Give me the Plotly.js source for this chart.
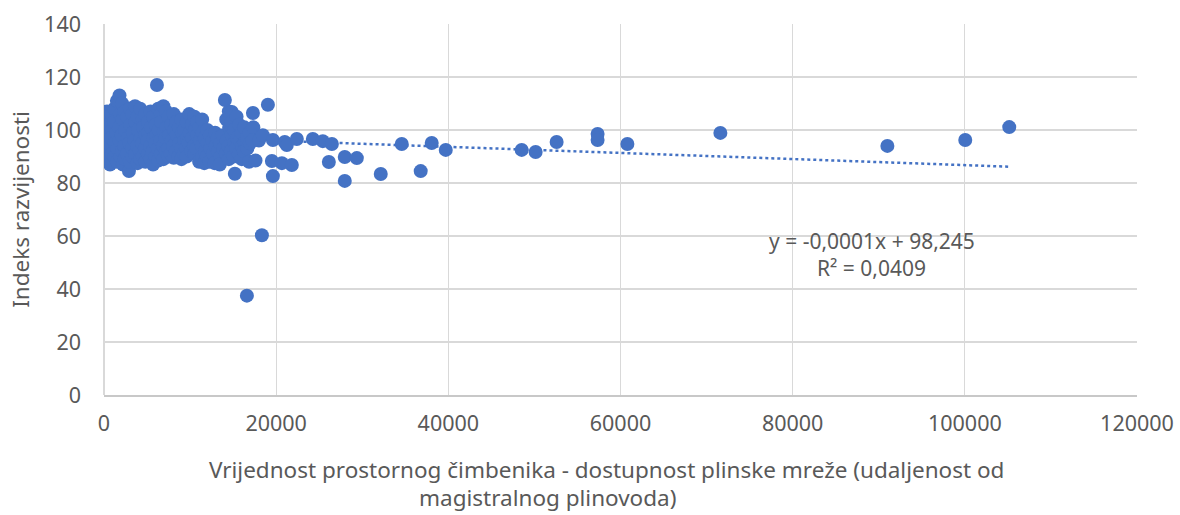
<!DOCTYPE html>
<html>
<head>
<meta charset="utf-8">
<script src="https://cdn.plot.ly/plotly-3.0.1.min.js"></script>
<style>html,body{margin:0;padding:0;background:#fff;}#chart{width:1180px;height:515px;}</style>
</head>
<body>
<div id="chart"></div>
<script>
// Distance to the main gas pipeline (x) and development index (y)
const gasAccess = [
  200,250,300,250,350,450,400,500,
  650,600,700,900,950,850,900,
  1200,1150,1250,1200,1500,1450,1550,1500,
  1800,1850,1750,1800,1900,
  2100,2150,2050,2100,2200,
  2400,2450,2350,2400,
  2700,2750,2650,2900,
  3000,3050,2950,3000,
  3300,3350,3250,3300,
  3600,3650,3550,3600,
  3900,3950,3850,3900,
  4200,4250,4150,4200,
  4500,4550,4450,4500,
  4800,4850,4750,4800,
  5100,5150,5050,5100,
  5400,5450,5350,5400,
  5700,5750,5650,5700,
  6000,6050,5950,6000,
  6150,
  6300,6350,6250,6300,
  6600,6650,6550,6600,
  6900,6950,6850,6900,
  7200,7250,7150,7200,
  7500,7550,7450,7500,
  7800,7850,7750,
  8100,8150,8050,8100,
  8400,8450,8350,
  8700,8750,8650,
  9000,9050,8950,9000,
  9300,9350,9250,
  9600,9650,9550,9600,
  9900,9950,9850,
  10200,10250,10150,
  10500,10550,10450,10500,
  10800,10850,10750,
  11100,11150,11050,
  11400,11450,11350,11400,
  11700,11750,11650,
  12000,12050,11950,
  12300,12350,12250,
  12600,12650,
  12900,12950,12850,
  13200,13250,
  13500,13550,13450,
  13800,13850,
  14040,
  14200,14250,14150,
  14500,14550,14450,14500,
  14850,14800,14850,14750,
  15100,15150,15050,
  15200,
  15400,15450,15350,
  15700,15750,15650,
  16000,16050,16000,
  16300,16350,16250,
  16600,16650,16600,
  16900,16950,16850,
  17300,17350,17250,
  17600,
  18000,
  18340,
  18450,
  19040,
  19500,19620,19620,
  20660,21000,21240,21820,22400,
  24260,25420,26470,26120,27970,29370,27970,32150,
  34590,36790,38070,39700,48520,50140,52580,57340,57340,60800,71600,91000,100050,105160
];
const devIndex = [
  104,100,96,92,107,98,94,89,
  102,95,87,106,100,97,91,
  108,103,95,90,111,99,93,88,
  113,106,101,96,90,
  110,104,98,92,87,
  107,100,94,89,
  105,97,91,84.5,
  108,102,95,88,
  106,99,93,90,
  109,103,96,91,
  105,100,94,87.5,
  108,97,92,89,
  104,101,95,90,
  106,98,93,88,
  103,99,96,91,
  107,101,94,89,
  105,97,92,87,
  102,98,95,90,
  117,
  108,100,93,88.5,
  106,103,96,91,
  109,99,94,89,
  107,101,97,92,
  105,98,93,90,
  102,96,91,
  106,100,94,89.5,
  103,98,92,
  101,95,90,
  104,99,93,89,
  100,96,91,
  103,97,93,90,
  106,99,95,
  102,97,92,
  105,100,94,91,
  103,98,93,
  101,96,88,
  104,99,94,90,
  97,92,87.5,
  100,95,90,
  98,93,88,
  96,91,
  99,94,87.5,
  97,92,
  95,90,87,
  98,93,
  111.3,
  104,96,91,
  107,101,94,89,
  106.8,103,98,92,
  100,95,90,
  83.5,
  105,97,93,
  102,96,91,
  99,94,89,
  101,95,92,
  97,93,37.5,
  99,95,88,
  106.4,101,96,
  88.5,
  96,
  60.3,
  98,
  109.5,
  88.3,96.2,82.6,
  87.5,95.5,94.3,86.8,96.6,
  96.6,95.8,94.7,87.9,89.8,89.4,80.8,83.4,
  94.7,84.5,95.1,92.5,92.5,91.7,95.5,98.5,96.2,94.7,98.9,94,96.2,101.1
];
// Linear trendline coefficients (as shown on chart)
const trendIntercept = 98.245;
const trendSlope = -0.000115;
const xTickVals = [0, 20000, 40000, 60000, 80000, 100000, 120000];
const yTickVals = [0, 20, 40, 60, 80, 100, 120, 140];
const equationText = 'y = -0,0001x + 98,245';
const r2Text = 'R² = 0,0409';
const xTitleLine1 = 'Vrijednost prostornog čimbenika - dostupnost plinske mreže (udaljenost od';
const xTitleLine2 = 'magistralnog plinovoda)';
const yTitle = 'Indeks razvijenosti';

const xMin = Math.min(...gasAccess), xMax = Math.max(...gasAccess);
const trendX = [xMin, xMax];
const trendY = trendX.map(v => trendIntercept + trendSlope * v);

const FONT = 'Noto Sans, Open Sans, sans-serif';
const TXT = '#595959';
const BLUE = '#4472c4';

const data = [
  {
    type: 'scatter', mode: 'lines', x: trendX, y: trendY,
    line: {color: BLUE, width: 2.5, dash: 'dot'},
    hoverinfo: 'skip', showlegend: false
  },
  {
    type: 'scatter', mode: 'markers', x: gasAccess, y: devIndex,
    marker: {color: BLUE, size: 14, line: {width: 0}},
    showlegend: false
  }
];

const layout = {
  width: 1180, height: 515,
  margin: {l: 104, r: 43, t: 24, b: 120},
  paper_bgcolor: '#ffffff', plot_bgcolor: '#ffffff',
  font: {family: FONT, color: TXT, size: 21},
  showlegend: false,
  xaxis: {
    range: [0, 120000], tickvals: xTickVals, tickformat: 'd',
    showgrid: true, gridcolor: '#d9d9d9', gridwidth: 1.3,
    zeroline: true, zerolinecolor: '#d9d9d9', zerolinewidth: 1.3,
    showline: true, linecolor: '#c8c8c8', linewidth: 1.5,
    ticks: '', ticklabelstandoff: 9,
    tickfont: {family: FONT, size: 21.5, color: TXT}
  },
  yaxis: {
    range: [0, 140], tickvals: yTickVals,
    showgrid: true, gridcolor: '#d9d9d9', gridwidth: 1.3,
    zeroline: false, showline: false,
    ticks: '', ticklabelstandoff: 22,
    tickfont: {family: FONT, size: 21.5, color: TXT},
    title: {text: yTitle, font: {family: FONT, size: 22.5, color: TXT}, standoff: 8}
  },
  annotations: [
    {xref: 'x', yref: 'y', x: 89200, y: 58.3, text: equationText, showarrow: false,
     font: {family: FONT, size: 21, color: TXT}, xanchor: 'center', yanchor: 'middle'},
    {xref: 'x', yref: 'y', x: 89200, y: 47.9, text: r2Text, showarrow: false,
     font: {family: FONT, size: 21, color: TXT}, xanchor: 'center', yanchor: 'middle'},
    {xref: 'paper', yref: 'paper', x: (606 - 104) / 1033, y: -(469 - 395) / 371, text: xTitleLine1,
     showarrow: false, font: {family: FONT, size: 22.5, color: TXT}, xanchor: 'center', yanchor: 'middle'},
    {xref: 'paper', yref: 'paper', x: (547 - 104) / 1033, y: -(497 - 395) / 371, text: xTitleLine2,
     showarrow: false, font: {family: FONT, size: 22.5, color: TXT}, xanchor: 'center', yanchor: 'middle'}
  ]
};

Plotly.newPlot('chart', data, layout, {displayModeBar: false, staticPlot: true});
</script>
</body>
</html>
